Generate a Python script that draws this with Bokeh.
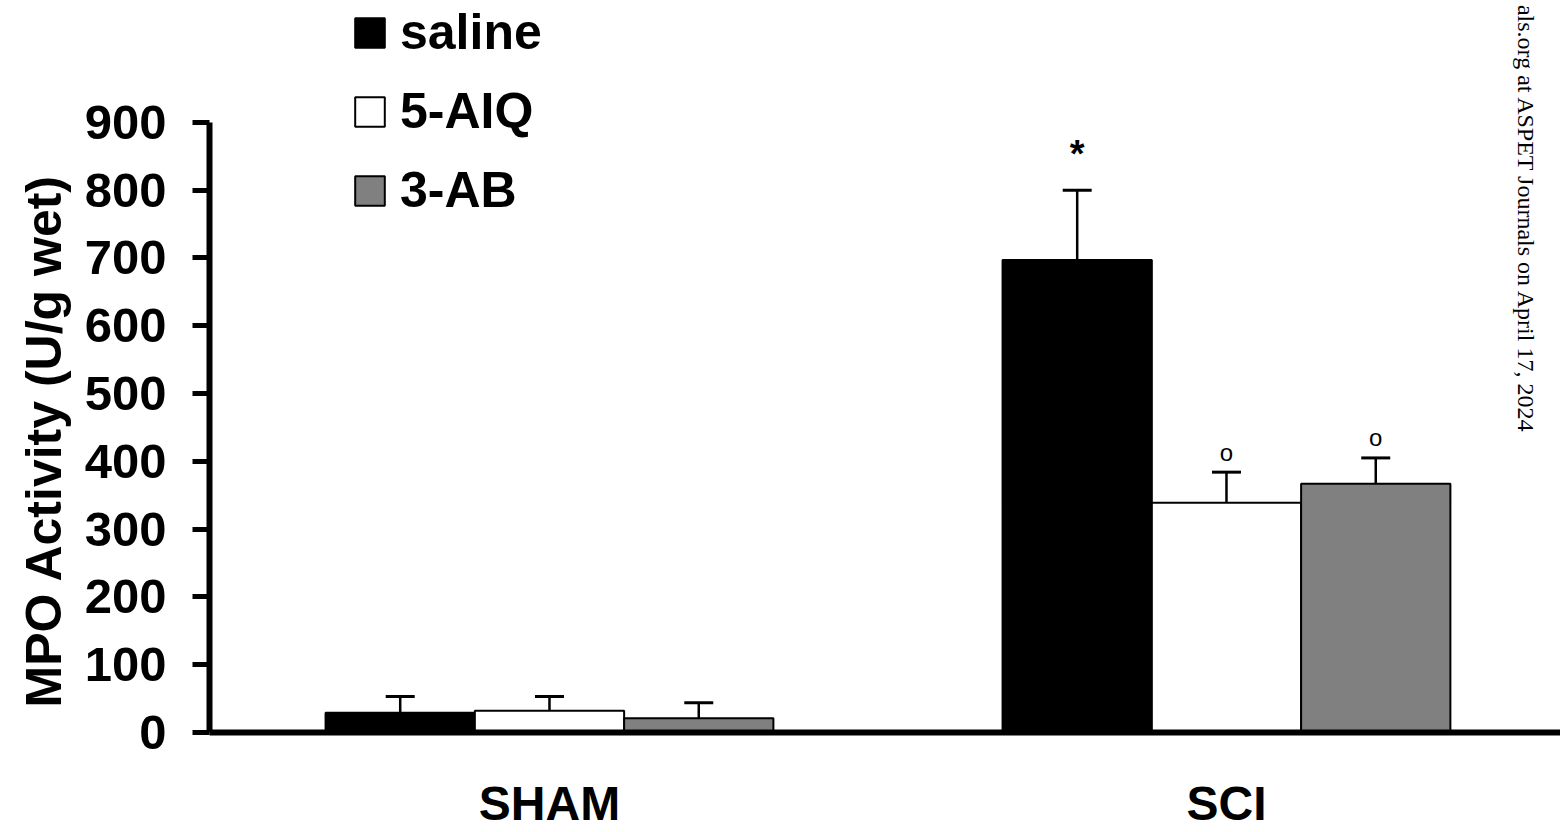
import math
from bokeh.plotting import figure
from bokeh.models import (Range1d, FixedTicker, ColumnDataSource, Whisker, TeeHead,
                          Label, Legend, LegendItem, Title)
from bokeh.core.properties import value
from bokeh.embed import file_html
from bokeh.resources import INLINE

# ---------------- data ----------------
groups = ["SHAM", "SCI"]
treatments = ["saline", "5-AIQ", "3-AB"]
saline = [29, 697]
saline_err = [24, 103]
aiq = [32, 339]
aiq_err = [21, 45]
ab = [21, 367]
ab_err = [23, 38]
saline_sig = ["", "*"]
aiq_sig = ["", "o"]
ab_sig = ["", "o"]
y_ticks = [0, 100, 200, 300, 400, 500, 600, 700, 800, 900]
y_label = "MPO Activity (U/g wet)"
watermark = "als.org at ASPET Journals on April 17, 2024"

# ---------------- style ----------------
FONT = "Liberation Sans"
fills = ["black", "white", "#808080"]
bar_w = 0.2205
offsets = [-bar_w, 0.0, bar_w]
sig_style = {"*": ("38px", "bold", -36), "o": ("24px", "normal", -20), "": ("10px", "normal", 0)}

W, H = 1560, 832
p = figure(width=W, height=H, output_backend="svg", toolbar_location=None, title=None,
           x_range=Range1d(-0.5022, 1.4934), y_range=Range1d(0, 1079.7),
           min_border_left=209, min_border_right=0, min_border_top=0, min_border_bottom=99)
p.outline_line_color = None
p.xgrid.grid_line_color = None
p.ygrid.grid_line_color = None
p.background_fill_color = "white"
p.border_fill_color = "white"

series = [(saline, saline_err, saline_sig), (aiq, aiq_err, aiq_sig), (ab, ab_err, ab_sig)]
items = []
for i, (name, (vals, errs, sig)) in enumerate(zip(treatments, series)):
    xs = [gi + offsets[i] for gi in range(len(groups))]
    src = ColumnDataSource(dict(
        x=xs, top=vals, upper=[v + e for v, e in zip(vals, errs)], sig=sig,
        fs=[sig_style[s][0] for s in sig], fw=[sig_style[s][1] for s in sig],
        yo=[sig_style[s][2] for s in sig]))
    r = p.vbar(x="x", top="top", bottom=0, width=bar_w, source=src,
               fill_color=fills[i], line_color="black", line_width=2)
    items.append(LegendItem(label=name, renderers=[r]))
    wk = Whisker(source=src, base="x", upper="upper", lower="top", dimension="height",
                 line_color="black", line_width=2.5,
                 upper_head=TeeHead(size=29, line_width=3, line_color="black"), lower_head=None)
    p.add_layout(wk)
    p.text(x="x", y="upper", text="sig", source=src, text_font_size="fs",
           text_font_style="fw", y_offset="yo", text_align="center",
           text_baseline="alphabetic", text_color="black", text_font=value(FONT))

# y axis
ya = p.yaxis[0]
ya.ticker = FixedTicker(ticks=y_ticks)
ya.bounds = (y_ticks[0], y_ticks[-1])
ya.axis_line_width = 6
ya.axis_line_color = "black"
ya.major_tick_line_width = 5
ya.major_tick_out = 17
ya.major_tick_in = 0
ya.minor_tick_line_color = None
ya.major_label_text_font = FONT
ya.major_label_text_font_style = "bold"
ya.major_label_text_font_size = "49px"
ya.major_label_text_color = "black"
ya.major_label_standoff = 26

# x axis
xa = p.xaxis[0]
xa.ticker = FixedTicker(ticks=list(range(len(groups))))
xa.major_label_overrides = {i: g for i, g in enumerate(groups)}
xa.axis_line_width = 6
xa.axis_line_color = "black"
xa.major_tick_line_color = None
xa.major_tick_out = 0
xa.major_tick_in = 0
xa.minor_tick_line_color = None
xa.major_label_text_font = FONT
xa.major_label_text_font_style = "bold"
xa.major_label_text_font_size = "48px"
xa.major_label_text_color = "black"
xa.major_label_standoff = 44

# y axis title (left panel)
p.add_layout(Title(text=y_label, align="left", offset=25, vertical_align="bottom",
                   standoff=20, text_font=FONT, text_font_style="bold",
                   text_font_size="50px", text_color="black"), "left")

legend = Legend(items=items, location=(142, 513), orientation="vertical",
                glyph_width=37, glyph_height=37, label_standoff=12, spacing=21,
                padding=0, margin=0, border_line_color=None, background_fill_alpha=0,
                label_text_font=FONT, label_text_font_style="bold",
                label_text_font_size="50px", label_text_color="black")
p.add_layout(legend)

p.add_layout(Label(x=1316, y=298, x_units="screen", y_units="screen", text=watermark,
                   angle=-math.pi / 2, text_align="right", text_baseline="alphabetic",
                   text_font="Liberation Serif", text_font_size="24px", text_color="black"))

open("out.html", "w").write(file_html(p, INLINE))
